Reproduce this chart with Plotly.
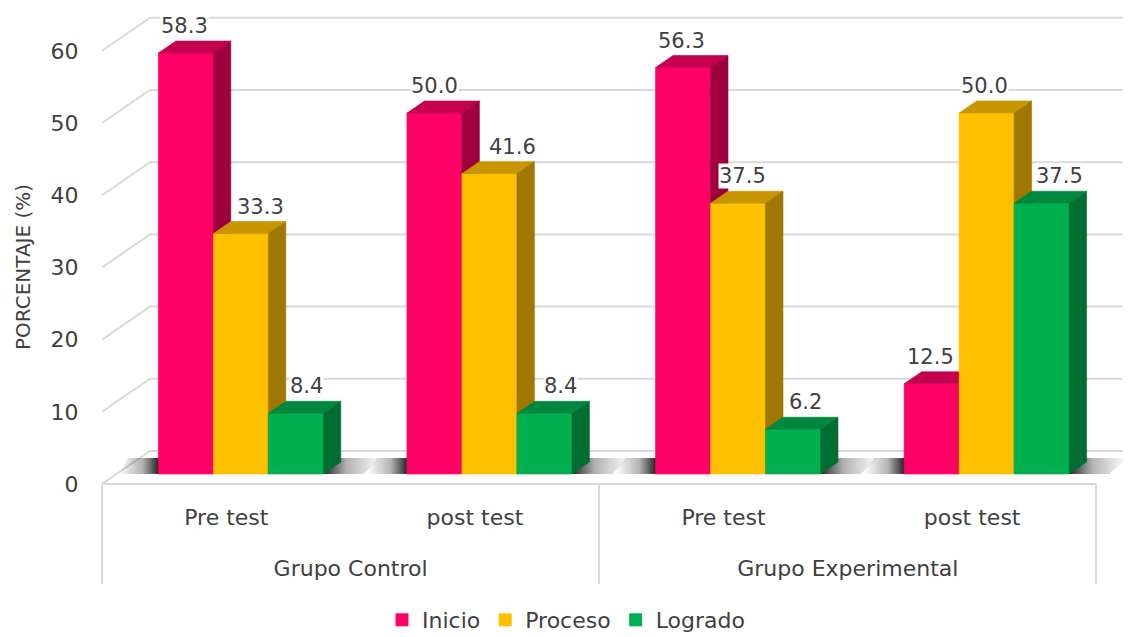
import plotly.graph_objects as go

# ---------------- data ----------------
groups = ["Grupo Control", "Grupo Experimental"]
tests = ["Pre test", "post test", "Pre test", "post test"]
series_names = ["Inicio", "Proceso", "Logrado"]
inicio = [58.3, 50.0, 56.3, 12.5]
proceso = [33.3, 41.6, 37.5, 50.0]
logrado = [8.4, 8.4, 6.2, 37.5]
y_ticks = [0, 10, 20, 30, 40, 50, 60]
y_title = "PORCENTAJE (%)"
series_values = [inicio, proceso, logrado]

# ---------------- style ----------------
front_colors = ["#FF0066", "#FFC000", "#00B050"]
top_colors = ["#C4004F", "#C89600", "#00893E"]
side_colors = ["#9E003F", "#A07800", "#006E31"]
label_nudge_px = [[-1, 0, -2, -1], [20, 23, 4, -2], [11, 16, 12, 18]]
FONT = "DejaVu Sans"
TXT = "#404040"
GRID = "#D9D9D9"

# ---------------- geometry (oblique 3-D projection) ----------------
SW, SH = 1131, 637       # screen size
OFF = 8                  # page body margin
W, H = SW - OFF, SH - OFF
ML_S = 100               # screen x of plot-area left edge (x data units == screen pixels)
Y0 = 484                 # screen row of value 0 on the front plane
PX = 7.22                # pixels per value unit
WALL_D = 33              # vertical pixel extent of full depth
SLOPE = 48 / 33          # horizontal shift per unit of depth
BAR_D0, BAR_D1 = 10, 22  # bar front / back depth
XL = 102
CW = 248.6
XR = XL + 4 * CW
BW = CW * 0.2212
n_cat = len(tests)
cat_centers = [XL + CW * (i + 0.5) for i in range(n_cat)]
group_centers = [XL + CW * 1.0, XL + CW * 3.0]
divider_pos = [XL, XL + 2 * CW, XR]


def proj(x, v, d):
    return x + d * SLOPE, v + d / PX


def paper_x(sx):
    return (sx - ML_S) / (SW - ML_S)


def paper_y(sy):
    return 1 - (sy - OFF) / H


fig = go.Figure()

# back wall gridlines + left wall diagonals + floor front edge
gx, gy = [], []
for v in y_ticks:
    a = proj(XL, v, 0)
    b = proj(XL, v, WALL_D)
    gx += [a[0], b[0], SW, None]
    gy += [a[1], b[1], b[1], None]
gx += [XL, XR, None]
gy += [0, 0, None]
fig.add_trace(go.Scatter(x=gx, y=gy, mode="lines", line=dict(color=GRID, width=2),
                         hoverinfo="skip", showlegend=False))

# floor shadows
L = 40
for i in range(n_cat):
    c = cat_centers[i]
    xl, _ = proj(c - 1.5 * BW, 0, BAR_D0)
    xr, _ = proj(c + 1.5 * BW, 0, BAR_D0)
    yf = BAR_D0 / PX
    yb = (BAR_D1 + 4) / PX
    xs = [xr, xr + (BAR_D1 - BAR_D0) * SLOPE, xr + 18 + L, xr + L, xr]
    ys = [yf, yb, yb, yf, yf]
    fig.add_trace(go.Scatter(x=xs, y=ys, mode="lines", fill="toself", line=dict(width=0),
                             fillgradient=dict(type="horizontal", start=xr, stop=xr + 18 + L,
                                               colorscale=[[0, "rgba(0,0,0,0.85)"], [0.4, "rgba(0,0,0,0.3)"],
                                                           [1, "rgba(0,0,0,0)"]]),
                             hoverinfo="skip", showlegend=False))
    xs = [xl - L, xl + 2, xl + 2, xl - L + 10, xl - L]
    ys = [yf, yf, yb, yb, yf]
    fig.add_trace(go.Scatter(x=xs, y=ys, mode="lines", fill="toself", line=dict(width=0),
                             fillgradient=dict(type="horizontal", start=xl - L, stop=xl,
                                               colorscale=[[0, "rgba(0,0,0,0)"], [0.6, "rgba(0,0,0,0.3)"],
                                                           [1, "rgba(0,0,0,0.85)"]]),
                             hoverinfo="skip", showlegend=False))

# bars (front, top, side faces), series drawn left to right
annotations = []
for s, vals in enumerate(series_values):
    fxs, fys, txs, tys, sxs, sys_ = [], [], [], [], [], []
    for i, v in enumerate(vals):
        x0 = cat_centers[i] - 1.5 * BW + s * BW
        x1 = x0 + BW
        p = [proj(x0, 0, BAR_D0), proj(x1, 0, BAR_D0), proj(x1, v, BAR_D0), proj(x0, v, BAR_D0)]
        fxs += [q[0] for q in p] + [p[0][0], None]
        fys += [q[1] for q in p] + [p[0][1], None]
        p = [proj(x0, v, BAR_D0), proj(x1, v, BAR_D0), proj(x1, v, BAR_D1), proj(x0, v, BAR_D1)]
        txs += [q[0] for q in p] + [p[0][0], None]
        tys += [q[1] for q in p] + [p[0][1], None]
        p = [proj(x1, 0, BAR_D0), proj(x1, v, BAR_D0), proj(x1, v, BAR_D1), proj(x1, 0, BAR_D1)]
        sxs += [q[0] for q in p] + [p[0][0], None]
        sys_ += [q[1] for q in p] + [p[0][1], None]
        lx, _ = proj(x0 + BW / 2, v, BAR_D0)
        annotations.append(dict(x=lx + label_nudge_px[s][i], y=v + BAR_D1 / PX, xref="x", yref="y",
                                text=f"{v:.1f}", showarrow=False, yshift=15, yanchor="middle",
                                xanchor="center", bgcolor="white", borderpad=0,
                                font=dict(family=FONT, size=21, color=TXT)))
    for xs, ys, col in ((fxs, fys, front_colors[s]), (txs, tys, top_colors[s]), (sxs, sys_, side_colors[s])):
        fig.add_trace(go.Scatter(x=xs, y=ys, mode="lines", fill="toself", fillcolor=col,
                                 line=dict(color=col, width=0.6), hoverinfo="skip", showlegend=False))

# legend entries
for s, name in enumerate(series_names):
    fig.add_trace(go.Scatter(x=[None], y=[None], mode="markers", name=name,
                             marker=dict(symbol="square", size=13, color=front_colors[s])))

# carriers for the overlaying category axes
for ax in ("x3", "x4", "x5"):
    fig.add_trace(go.Scatter(x=[None], y=[None], xaxis=ax, yaxis="y", mode="markers",
                             hoverinfo="skip", showlegend=False))

annotations.append(dict(x=paper_x(23), xref="paper", xanchor="center",
                        y=(Y0 - 267) / PX, yref="y", yanchor="middle",
                        text=y_title, textangle=-90, showarrow=False,
                        font=dict(family=FONT, size=20, color=TXT)))

cat_axis = dict(overlaying="x", anchor="free", position=paper_y(Y0), side="bottom",
                range=[ML_S, SW], showgrid=False, zeroline=False, showline=False, fixedrange=True,
                tickfont=dict(family=FONT, size=22, color=TXT))

fig.update_layout(
    width=W, height=H,
    margin=dict(l=ML_S - OFF, r=0, t=0, b=0, autoexpand=False),
    paper_bgcolor="white", plot_bgcolor="rgba(0,0,0,0)",
    xaxis=dict(range=[ML_S, SW], visible=False, fixedrange=True),
    yaxis=dict(range=[-(SH - Y0) / PX, (Y0 - OFF) / PX], tickvals=y_ticks, ticks="outside", ticklen=16,
               tickcolor="rgba(0,0,0,0)", showgrid=False, zeroline=False, showline=False,
               fixedrange=True, tickfont=dict(family=FONT, size=22, color=TXT)),
    xaxis3=dict(cat_axis, tickvals=cat_centers, ticktext=tests, ticks="outside", ticklen=14,
                tickcolor="rgba(0,0,0,0)"),
    xaxis4=dict(cat_axis, tickvals=group_centers, ticktext=groups, ticks="outside", ticklen=65,
                tickcolor="rgba(0,0,0,0)"),
    xaxis5=dict(cat_axis, tickvals=divider_pos, ticks="outside", ticklen=99, tickcolor=GRID,
                tickwidth=2, showticklabels=False),
    legend=dict(orientation="h", x=paper_x(566), xanchor="center", y=paper_y(620),
                yanchor="middle", font=dict(family=FONT, size=22, color=TXT), bgcolor="rgba(0,0,0,0)",
                itemwidth=30),
    annotations=annotations,
)

fig.write_html("out.html")
